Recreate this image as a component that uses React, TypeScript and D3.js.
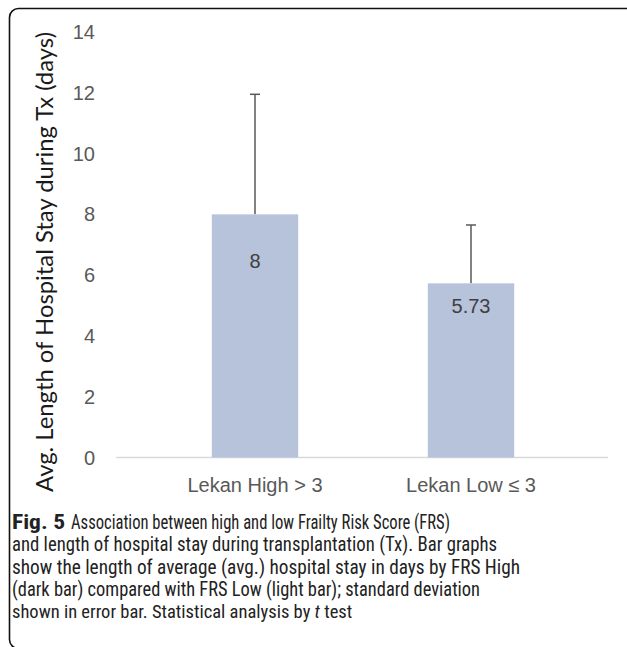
import * as d3 from 'd3';

const categories = ['Lekan High > 3', 'Lekan Low ≤ 3'];
const means = [8, 5.73];
const upperErr = [11.95, 7.65];
const valueLabels = ['8', '5.73'];
const yTicks = [0, 2, 4, 6, 8, 10, 12, 14];

// caption lines: [text, x, width, weight]
const captionLines: [string, number, number, string][][] = [
  [['Fig. 5', 12, 53, 'bold'], ['Association between high and low Frailty Risk Score (FRS)', 71, 379, 'normal']],
  [['and length of hospital stay during transplantation (Tx). Bar graphs', 12, 485, 'normal']],
  [['show the length of average (avg.) hospital stay in days by FRS High', 12, 508, 'normal']],
  [['(dark bar) compared with FRS Low (light bar); standard deviation', 12, 468, 'normal']],
];
const lastLine = ['shown in error bar. Statistical analysis by ', 't', ' test'];

const W = 627;
const H = 647;
const BAR = '#b7c2db';
const GREY = '#595959';

export default function App() {
  const y = d3.scaleLinear().domain([0, 14]).range([457.5, 32]);
  const x = d3.scaleBand<string>().domain(categories).range([147, 579]).paddingInner(0.6).paddingOuter(0.3);
  const labelDy = [54, 30];
  const capFont = "'Liberation Sans Narrow', 'Roboto Condensed', Lato, sans-serif";

  return (
    <svg width={W} height={H} style={{ position: 'absolute', left: 0, top: 0, background: '#fff' }}>
      <rect x={9.5} y={8.5} width={640} height={640} rx={9} fill="none" stroke="#111" strokeWidth={1.6} />

      {/* y axis title */}
      <text transform="translate(53,262) rotate(-90)" textAnchor="middle" fontFamily="Lato, 'Open Sans', sans-serif"
        fontSize={24} fill="#1a1a1a" textLength={460} lengthAdjust="spacingAndGlyphs">
        Avg. Length of Hospital Stay during Tx (days)
      </text>

      {yTicks.map((t) => (
        <text key={t} x={95} y={y(t)} dy={7} textAnchor="end" fontFamily="'Liberation Sans', Arial, sans-serif" fontSize={20} fill={GREY}>
          {t}
        </text>
      ))}

      <line x1={116} x2={608} y1={y(0)} y2={y(0)} stroke="#d9d9d9" strokeWidth={1.5} />

      {categories.map((c, i) => {
        const bx = x(c)!;
        const cx = bx + x.bandwidth() / 2;
        return (
          <g key={c}>
            <line x1={cx} x2={cx} y1={y(means[i])} y2={y(upperErr[i])} stroke={GREY} strokeWidth={1.5} />
            <line x1={cx - 5} x2={cx + 5} y1={y(upperErr[i])} y2={y(upperErr[i])} stroke={GREY} strokeWidth={1.5} />
            <rect x={bx} y={y(means[i])} width={x.bandwidth()} height={y(0) - y(means[i])} fill={BAR} />
            <text x={cx} y={y(means[i]) + labelDy[i]} textAnchor="middle" fontFamily="'Liberation Sans', Arial, sans-serif" fontSize={20} fill="#404040">
              {valueLabels[i]}
            </text>
            <text x={cx} y={492} textAnchor="middle" fontFamily="'Liberation Sans', Arial, sans-serif" fontSize={20} fill={GREY}>
              {c}
            </text>
          </g>
        );
      })}

      {/* caption */}
      {captionLines.map((parts, i) => (
        <g key={i}>
          {parts.map(([txt, px, pw, wt], j) => (
            <text key={j} x={px} y={529 + i * 22.3} fontFamily={capFont} fontSize={19.5} fill="#222"
              fontWeight={wt} textLength={pw} lengthAdjust="spacingAndGlyphs">
              {txt}
            </text>
          ))}
        </g>
      ))}
      <text x={12} y={529 + 4 * 22.3} fontFamily={capFont} fontSize={18.5} fill="#222" style={{ whiteSpace: 'pre' }}>
        {lastLine[0]}<tspan fontStyle="italic">{lastLine[1]}</tspan>{lastLine[2]}
      </text>
    </svg>
  );
}
